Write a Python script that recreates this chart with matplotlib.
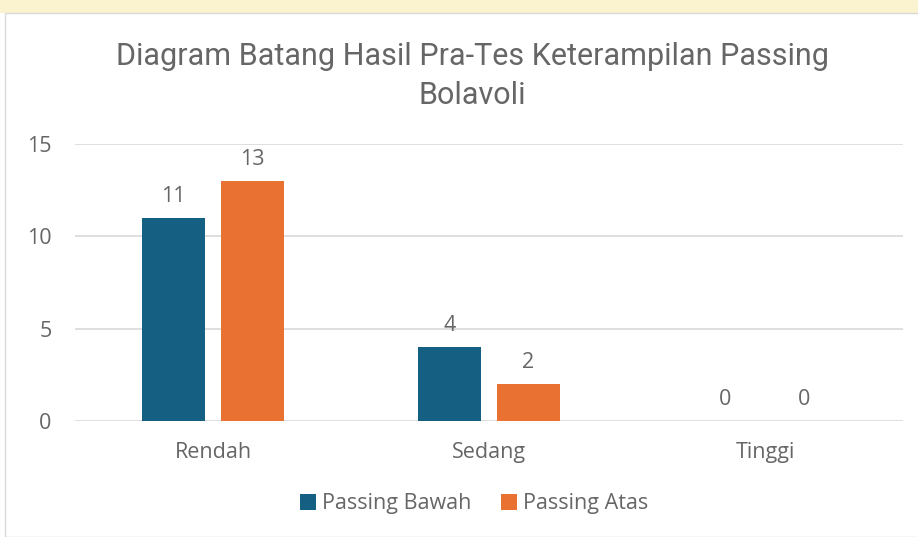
import numpy as np
import matplotlib.pyplot as plt
from matplotlib.patches import Rectangle

# Data
categories = ["Rendah", "Sedang", "Tinggi"]
passing_bawah = [11, 4, 0]
passing_atas = [13, 2, 0]
series_names = ["Passing Bawah", "Passing Atas"]

blue = "#156082"
orange = "#E97132"
grey = "#666666"

plt.rcParams['font.family'] = ['Open Sans', 'DejaVu Sans']

fig = plt.figure(figsize=(9.18, 5.37), dpi=100)
fig.patch.set_facecolor("white")

# faint page background strip above the chart box
fig.add_artist(Rectangle((0, 1 - 13 / 537), 1, 13 / 537, transform=fig.transFigure,
                         facecolor="#FBF3CF", edgecolor="none", zorder=0))
fig.add_artist(Rectangle((5 / 918, 0), 1, 1 - 13 / 537, transform=fig.transFigure,
                         facecolor="white", edgecolor="#D9D9D9", linewidth=1, zorder=0))

ax = fig.add_axes([75 / 918, 1 - 421 / 537, 828 / 918, 277 / 537])
x = np.arange(len(categories))
w = 0.225
off = 0.143
b1 = ax.bar(x - off, passing_bawah, w, color=blue, label=series_names[0], zorder=3)
b2 = ax.bar(x + off, passing_atas, w, color=orange, label=series_names[1], zorder=3)

for bars in (b1, b2):
    for r in bars:
        ax.annotate(f"{int(r.get_height())}", (r.get_x() + r.get_width() / 2, r.get_height()),
                    xytext=(0, 8), textcoords="offset points", ha="center", va="bottom",
                    fontsize=15.5, color=grey)

ax.set_xlim(-0.5, 2.5)
ax.set_ylim(0, 15)
ax.set_yticks([0, 5, 10, 15])
ax.set_xticks(x)
ax.set_xticklabels(categories)
ax.tick_params(axis="both", length=0, labelsize=15.5, labelcolor=grey)
ax.tick_params(axis="y", pad=17)
ax.tick_params(axis="x", pad=15)
ax.yaxis.grid(True, color="#D9D9D9", linewidth=1.2, zorder=0)
for s in ax.spines.values():
    s.set_visible(False)
ax.set_facecolor("none")

fig.text(472 / 918, 1 - 76 / 537, "Diagram Batang Hasil Pra-Tes Keterampilan Passing\nBolavoli",
         ha="center", va="center", fontsize=22, color=grey, linespacing=1.4,
         family=['Liberation Sans Narrow', 'Roboto', 'DejaVu Sans'])

fig.legend(handles=[b1, b2], loc="center", bbox_to_anchor=(474 / 918, 1 - 504 / 537), ncol=2,
           frameon=False, fontsize=15.5, labelcolor=grey, handlelength=0.75, handleheight=0.75,
           handletextpad=0.25, columnspacing=1.4)

fig.savefig("out.png", dpi=100)
